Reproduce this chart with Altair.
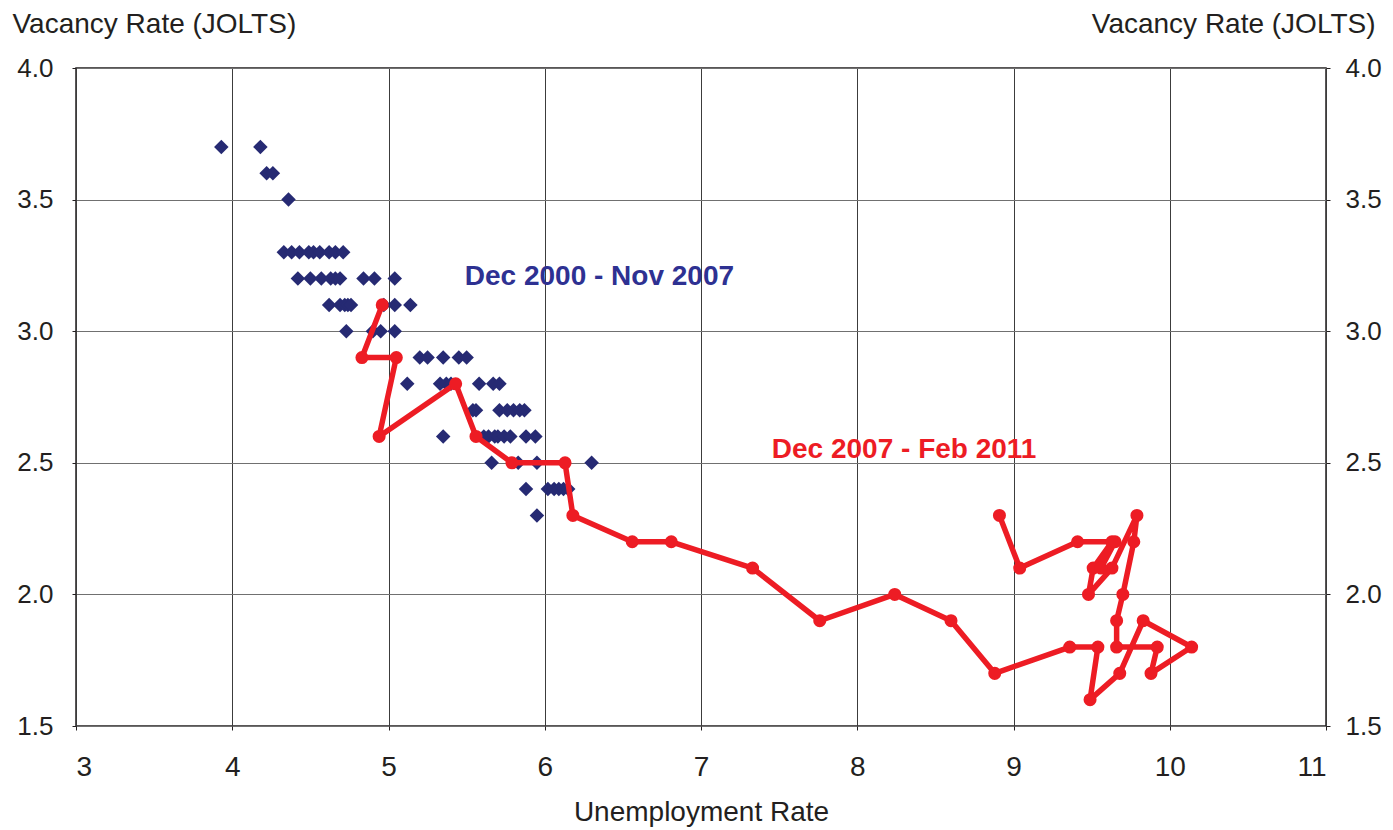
import altair as alt
import pandas as pd

# Monthly unemployment rate (x) vs. job-openings (vacancy) rate (y)
pre_u = [3.93, 4.18,
         4.22, 4.26,
         4.36,
         4.33, 4.38, 4.43, 4.49, 4.52, 4.56, 4.62, 4.66, 4.71,
         4.42, 4.50, 4.57, 4.63, 4.66, 4.69, 4.84, 4.91, 5.04,
         4.62, 4.69, 4.72, 4.74, 4.76, 4.97, 5.04, 5.14,
         4.73, 4.90, 4.95, 5.04,
         5.20, 5.25, 5.35, 5.45, 5.50,
         5.12, 5.33, 5.37, 5.40, 5.58, 5.67, 5.71,
         5.54, 5.56, 5.71, 5.76, 5.80, 5.84, 5.87,
         5.35, 5.61, 5.64, 5.68, 5.70, 5.74, 5.78, 5.88, 5.94,
         5.66, 5.83, 5.95, 6.30,
         5.88, 6.02, 6.06, 6.09, 6.12, 6.15,
         5.95]
pre_v = [3.7] * 2 + [3.6] * 2 + [3.5] + [3.3] * 9 + [3.2] * 9 + [3.1] * 8 + \
        [3.0] * 4 + [2.9] * 5 + [2.8] * 7 + [2.7] * 7 + [2.6] * 9 + \
        [2.5] * 4 + [2.4] * 6 + [2.3]

# Dec 2007 - Feb 2011, in time order
rec_u = [4.96, 4.83, 5.05, 4.94, 5.43, 5.56, 5.79, 6.13, 6.18, 6.56,
         6.81, 7.33, 7.76, 8.24, 8.60, 8.88, 9.36, 9.54, 9.49, 9.68,
         9.83, 10.14, 9.88, 9.92, 9.66, 9.66, 9.70, 9.77, 9.79, 9.63,
         9.48, 9.51, 9.63, 9.56, 9.65, 9.41, 9.04, 8.91]
rec_v = [3.1, 2.9, 2.9, 2.6, 2.8, 2.6, 2.5, 2.5, 2.3, 2.2,
         2.2, 2.1, 1.9, 2.0, 1.9, 1.7, 1.8, 1.8, 1.6, 1.7,
         1.9, 1.8, 1.7, 1.8, 1.8, 1.9, 2.0, 2.2, 2.3, 2.1,
         2.0, 2.1, 2.2, 2.1, 2.2, 2.2, 2.1, 2.3]

label_text = ["Dec 2000 - Nov 2007", "Dec 2007 - Feb 2011"]
label_u = [6.35, 8.30]
label_v = [3.177, 2.519]
label_color = ["#2E3192", "#ED1C24"]

x_ticks = [3, 4, 5, 6, 7, 8, 9, 10, 11]
y_ticks = [1.5, 2.0, 2.5, 3.0, 3.5, 4.0]

NAVY = "#262A73"
RED = "#ED1C24"
INK = "#231F20"
FONT = "Liberation Sans"

pre = pd.DataFrame({"u": pre_u, "v": pre_v})
rec = pd.DataFrame({"u": rec_u, "v": rec_v, "t": list(range(len(rec_u)))})
labels = pd.DataFrame({"txt": label_text, "u": label_u, "v": label_v, "c": label_color})

xs = alt.Scale(domain=[3, 11], nice=False, zero=False)
ys = alt.Scale(domain=[1.5, 4.0], nice=False, zero=False)

x_enc = alt.X(
    "u:Q", scale=xs,
    axis=alt.Axis(
        values=x_ticks, format="d", grid=True, gridColor="#3C3C3C", gridWidth=1,
        tickSize=4, tickColor=INK, labelFontSize=28, labelPadding=45,
        labelBaseline="alphabetic", title="Unemployment Rate", titleFontSize=28,
        titleFontWeight="normal", titleY=94, titleBaseline="alphabetic",
    ),
)

left_axis = alt.Axis(
    values=y_ticks, format=".1f", grid=True, gridColor="#707070", gridWidth=1,
    tickSize=4, tickColor=INK, labelFontSize=26, labelPadding=19,
    title="Vacancy Rate (JOLTS)", titleAngle=0, titleAlign="left",
    titleBaseline="alphabetic", titleX=-64, titleY=-36, titleFontSize=28,
    titleFontWeight="normal", orient="left",
)
right_axis = alt.Axis(
    values=y_ticks, format=".1f", grid=False,
    tickSize=4, tickColor=INK, labelFontSize=26, labelPadding=15,
    title="Vacancy Rate (JOLTS)", titleAngle=0, titleAlign="right",
    titleBaseline="alphabetic", titleX=49, titleY=-36, titleFontSize=28,
    titleFontWeight="normal", orient="right",
)

dots = alt.Chart(pre).mark_point(
    shape="diamond", filled=True, size=210, opacity=1, color=NAVY
).encode(x=x_enc, y=alt.Y("v:Q", scale=ys, axis=left_axis))

path = alt.Chart(rec).mark_line(
    color=RED, strokeWidth=5.5, strokeJoin="round", strokeCap="round"
).encode(x=x_enc, y=alt.Y("v:Q", scale=ys, axis=None), order="t:Q")

nodes = alt.Chart(rec).mark_circle(size=170, opacity=1, color=RED).encode(
    x=x_enc, y=alt.Y("v:Q", scale=ys, axis=right_axis)
)

notes = alt.Chart(labels).mark_text(
    font=FONT, fontSize=28, fontWeight="bold", align="center", baseline="alphabetic"
).encode(
    x=x_enc, y=alt.Y("v:Q", scale=ys, axis=None),
    text="txt:N", color=alt.Color("c:N", scale=None),
)

chart = alt.layer(dots, path, nodes, notes).resolve_axis(y="independent").properties(
    width=1250, height=658,
    autosize=alt.AutoSizeParams(type="none"),
    padding={"left": 76, "top": 68, "right": 67, "bottom": 104},
    background="white",
).configure_view(
    stroke=INK, strokeWidth=1.5
).configure_axis(
    domain=False, labelFont=FONT, titleFont=FONT, labelColor=INK, titleColor=INK
)

chart.save("out.html", embed_options={"renderer": "svg", "actions": False})
